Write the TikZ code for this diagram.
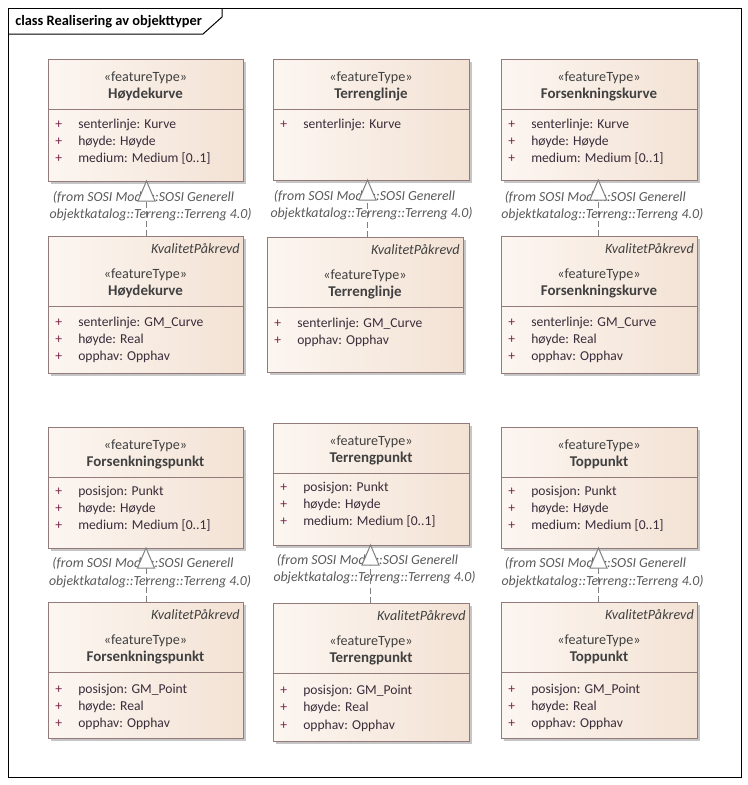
\documentclass[tikz,border=0pt]{standalone}
\usepackage{fontspec}
\setmainfont{Carlito}
\usetikzlibrary{calc}
\definecolor{fillL}{HTML}{FCF6F1}
\definecolor{fillR}{HTML}{F3E2D4}
\definecolor{bordc}{HTML}{937B7B}
\definecolor{shadowc}{HTML}{C6C6C6}
\definecolor{plusc}{HTML}{7A2348}
\definecolor{attrc}{HTML}{3A2C3A}
\definecolor{stc}{HTML}{404040}
\definecolor{lblc}{HTML}{5A5A5A}
\definecolor{genc}{HTML}{808080}
\tikzset{
  clsbox/.style={draw=bordc, line width=0.75pt, left color=fillL, right color=fillR, inner sep=0pt, outer sep=0pt, rectangle},
  bord/.style={draw=bordc, line width=0.75pt},
  stereo/.style={font=\fontsize{10.6}{12}\selectfont, text=stc, inner sep=0pt},
  cname/.style={font=\fontsize{11.2}{13}\selectfont\bfseries, text=stc, inner sep=0pt},
  kval/.style={font=\fontsize{10.6}{12}\selectfont\itshape, text=stc, inner sep=0pt},
  plus/.style={font=\fontsize{10.2}{12}\selectfont, text=plusc, inner sep=0pt},
  attr/.style={font=\fontsize{10.2}{12}\selectfont, text=attrc, inner sep=0pt},
  lbl/.style={font=\fontsize{10.4}{12}\selectfont\itshape, text=lblc, inner sep=0pt},
  dashl/.style={draw=genc, line width=0.75pt, dash pattern=on 4.5pt off 2.5pt},
  genline/.style={draw=genc, line width=0.75pt, fill=white, line join=miter},
  titlef/.style={font=\fontsize{10.8}{13}\selectfont\bfseries, text=black, inner sep=0pt}
}
\newcounter{tn}
\newcommand\umlclass[7]{%
  \pgfmathsetmacro\ko{#6*20}%
  \fill[shadowc] (#2+3,#3+3) rectangle (#4+3,#3+#5+3);
  \node[clsbox, minimum width={(#4-#2)*0.75pt}, minimum height={(#5)*0.75pt}] (#1) at ({(#2+#4)/2},{#3+#5/2}) {};
  \ifnum#6=1 \node[kval, anchor=base east] (#1k) at (#4-3,#3+17.5) {KvalitetPåkrevd};\fi
  \node[stereo, anchor=base] (#1s) at ({(#2+#4)/2},{#3+\ko+22}) {«featureType»};
  \node[cname, anchor=base] (#1n) at ({(#2+#4)/2},{#3+\ko+39}) {#7};
  \draw[bord] (#2,{#3+\ko+50}) -- (#4,{#3+\ko+50});
}
\newcommand\attr[3]{%
  \stepcounter{tn}%
  \node[plus, anchor=base west] (p\arabic{tn}) at (#1+7,#2+4) {+};
  \node[attr, anchor=base west] (a\arabic{tn}) at (#1+30,#2+4) {#3};
}
\newcommand\fromlbl[4]{%
  \node[lbl, anchor=base] (#4l1) at (#1-3,#2+4) {(from SOSI Model::SOSI Generell};
  \node[lbl, anchor=base] (#4l2) at (#1+4,#3+4) {objektkatalog::Terreng::Terreng 4.0)};
}
\newcommand\gen[4]{%
  \coordinate (#4apex) at (#3,0 |- #1.south);
  \coordinate (#4base) at ([yshift=-15pt]#4apex);
  \draw[dashl] (#2.north -| #4apex) -- (#4base);
  \draw[genline] (#4apex) -- ++(-8.5,20) -- ++(17,0) -- cycle;
}
\begin{document}
\begin{tikzpicture}[x=0.75pt,y=-0.75pt]
\useasboundingbox (0,0) rectangle (748,785);
\fill[white] (0,0) rectangle (748,785);
% frame
\draw[line width=0.75pt] (8,8) rectangle (741,777);
\draw[line width=0.75pt] (8,34) -- (203,34) -- (222,17) -- (222,8);
\node[titlef, anchor=base west] (title) at (15,25) {class Realisering av objekttyper};

% ---- row 1 upper
\umlclass{hk1}{48}{59}{243}{122}{0}{Høydekurve}
\attr{48}{124}{senterlinje: Kurve}
\attr{48}{141}{høyde: Høyde}
\attr{48}{158}{medium: Medium [0..1]}

\umlclass{tl1}{273}{59}{469}{121}{0}{Terrenglinje}
\attr{273}{124}{senterlinje: Kurve}

\umlclass{fk1}{501}{59}{697}{121}{0}{Forsenkningskurve}
\attr{501}{124}{senterlinje: Kurve}
\attr{501}{141}{høyde: Høyde}
\attr{501}{158}{medium: Medium [0..1]}

% ---- row 1 lower
\umlclass{hk2}{48}{236}{243}{137}{1}{Høydekurve}
\attr{48}{322}{senterlinje: GM\_Curve}
\attr{48}{339}{høyde: Real}
\attr{48}{356}{opphav: Opphav}

\umlclass{tl2}{267}{237}{463}{135}{1}{Terrenglinje}
\attr{267}{323}{senterlinje: GM\_Curve}
\attr{267}{340.5}{opphav: Opphav}

\umlclass{fk2}{501}{236}{697}{137}{1}{Forsenkningskurve}
\attr{501}{322}{senterlinje: GM\_Curve}
\attr{501}{339}{høyde: Real}
\attr{501}{356}{opphav: Opphav}

% ---- row 2 upper
\umlclass{fp1}{48}{427}{243}{121}{0}{Forsenkningspunkt}
\attr{48}{491}{posisjon: Punkt}
\attr{48}{508}{høyde: Høyde}
\attr{48}{525}{medium: Medium [0..1]}

\umlclass{tp1}{273}{423}{469}{122}{0}{Terrengpunkt}
\attr{273}{487}{posisjon: Punkt}
\attr{273}{504}{høyde: Høyde}
\attr{273}{521}{medium: Medium [0..1]}

\umlclass{to1}{501}{427}{697}{121}{0}{Toppunkt}
\attr{501}{491}{posisjon: Punkt}
\attr{501}{508}{høyde: Høyde}
\attr{501}{525}{medium: Medium [0..1]}

% ---- row 2 lower
\umlclass{fp2}{48}{602}{243}{136}{1}{Forsenkningspunkt}
\attr{48}{689}{posisjon: GM\_Point}
\attr{48}{706}{høyde: Real}
\attr{48}{723}{opphav: Opphav}

\umlclass{tp2}{273}{603}{469}{138}{1}{Terrengpunkt}
\attr{273}{690}{posisjon: GM\_Point}
\attr{273}{707.5}{høyde: Real}
\attr{273}{725}{opphav: Opphav}

\umlclass{to2}{501}{602}{697}{136}{1}{Toppunkt}
\attr{501}{689}{posisjon: GM\_Point}
\attr{501}{706}{høyde: Real}
\attr{501}{723}{opphav: Opphav}

% ---- labels
\fromlbl{146.5}{197}{214}{hk}
\fromlbl{367.5}{196}{213}{tl}
\fromlbl{598.3}{197}{214}{fk}
\fromlbl{146}{563}{581}{fp}
\fromlbl{370.5}{560}{577}{tp}
\fromlbl{598.5}{563}{581}{to}

% ---- generalizations
\gen{hk1}{hk2}{146.5}{ghk}
\gen{tl1}{tl2}{367.5}{gtl}
\gen{fk1}{fk2}{598.3}{gfk}
\gen{fp1}{fp2}{146}{gfp}
\gen{tp1}{tp2}{370.5}{gtp}
\gen{to1}{to2}{598.5}{gto}
\end{tikzpicture}
\end{document}
